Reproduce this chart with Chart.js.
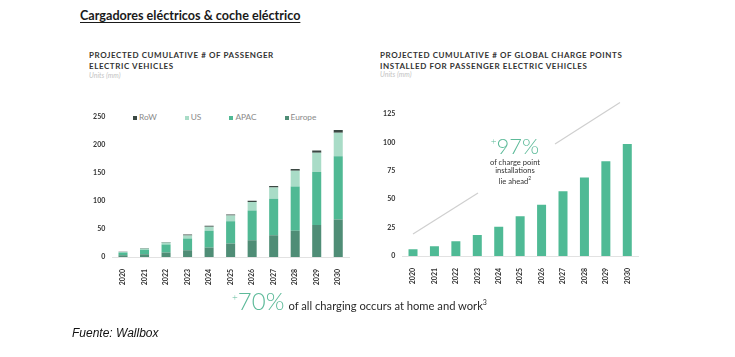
<!DOCTYPE html>
<html><head><meta charset="utf-8">
<script src="https://cdn.jsdelivr.net/npm/chart.js@4/dist/chart.umd.min.js"></script>
<style>
html,body{margin:0;padding:0;background:#fff;width:735px;height:357px;overflow:hidden;position:relative;font-family:Lato,"Open Sans",sans-serif}
.abs{position:absolute;white-space:nowrap}
.title{left:80px;top:8px;font-family:Lato,sans-serif;font-weight:700;font-size:12.6px;color:#1a1a1a;text-decoration:underline;text-underline-offset:2px}
.sub{font-weight:700;font-size:8px;letter-spacing:0.58px;color:#333;line-height:10.7px}
.units{font-size:7px;color:#c4c4c4;font-style:italic}
.legend{left:133px;top:112px;display:flex;gap:28px;font-size:8.3px;color:#8a8a8a;align-items:center}
.legend span.sw{display:inline-block;width:4px;height:4px;margin-right:2px;vertical-align:middle}
.big{color:#5dba99;font-weight:300;font-size:22px}
.big sup{font-size:10px;vertical-align:9px}
.ann{font-size:7.6px;color:#333;text-align:center;line-height:8px}
.foot{left:72px;top:326px;font-family:"Liberation Sans",sans-serif;font-style:italic;font-size:12px;color:#111}
</style></head><body>
<div class="abs title">Cargadores eléctricos &amp; coche eléctrico</div>
<div class="abs sub" style="left:89px;top:50px">PROJECTED CUMULATIVE # OF PASSENGER<br>ELECTRIC VEHICLES</div>
<div class="abs units" style="left:89px;top:71px">Units (mm)</div>
<div class="abs sub" style="left:380px;top:50px">PROJECTED CUMULATIVE # OF GLOBAL CHARGE POINTS<br>INSTALLED FOR PASSENGER ELECTRIC VEHICLES</div>
<div class="abs units" style="left:380px;top:70px">Units (mm)</div>
<div class="abs legend" id="legend"></div>

<div class="abs" style="left:80px;top:105px;width:275px;height:182px"><canvas id="c1"></canvas></div>
<div class="abs" style="left:370px;top:100px;width:274px;height:186px"><canvas id="c2"></canvas></div>

<svg class="abs" style="left:0;top:0" width="735" height="357">
  <line x1="413" y1="234" x2="478" y2="193" stroke="#cfcfcf" stroke-width="1.2"/>
  <line x1="555" y1="144" x2="620" y2="102.5" stroke="#cfcfcf" stroke-width="1.2"/>
</svg>
<div class="abs" style="left:465px;top:132px;width:100px;text-align:center"><span class="big"><sup>+</sup>97%</span></div>
<div class="abs ann" style="left:465px;top:158px;width:100px">of charge point<br>installations<br>lie ahead<sup style="font-size:5px">2</sup></div>

<div class="abs" style="left:232px;top:286px"><span class="big" style="font-size:24px"><sup>+</sup>70%</span> <span style="font-size:11.2px;color:#2a2a2a">of all charging occurs at home and work<sup style="font-size:7px">3</sup></span></div>
<div class="abs foot">Fuente: Wallbox</div>

<script>
const years = ['2020','2021','2022','2023','2024','2025','2026','2027','2028','2029','2030'];
const europe = [3,5,8,12,17,24,30,39,47,57,67];
const apac   = [5,8,14.5,21,30,40,53,65,79,95,113];
const us     = [1,2,3.5,5.5,7,10,15,20,28,34,42];
const row    = [0.5,1,1,1.5,2,2,2.5,3,3,4,5];
const chargePoints = [5.9,8.5,12.9,18.5,25.8,34.9,45.2,56.9,69.2,83.3,98.5];
const evTicks = [0,50,100,150,200,250];
const cpTicks = [0,25,50,75,100,125];
const seriesNames = ['Europe','APAC','US','RoW'];
const seriesColors = ['#4f8d76','#50b994','#a9dcc7','#3b4843'];
const cpColor = '#4fba95';

const legendEl = document.getElementById('legend');
[3,2,1,0].forEach(i=>{
  const d=document.createElement('div');
  d.innerHTML='<span class="sw" style="background:'+seriesColors[i]+'"></span>'+seriesNames[i];
  legendEl.appendChild(d);
});

const tickFont = {family:'Lato', size:7, weight:'bold'};
function xScale(){
  return {stacked:true, grid:{display:false}, border:{display:true,color:'#e2e2e2'},
    ticks:{font:tickFont,color:'#333',minRotation:90,maxRotation:90,padding:4,autoSkip:false},
    afterFit:s=>{s.height=30;}};
}
function yScale(max,ticksArr,w){
  return {stacked:true,min:0,max:max,grid:{display:false,drawTicks:false},border:{display:false},
    ticks:{font:tickFont,color:'#333',padding:7},
    afterBuildTicks:s=>{s.ticks=ticksArr.map(v=>({value:v}));},
    afterFit:s=>{s.width=w;}};
}
const common = {responsive:true,maintainAspectRatio:false,animation:false,
  plugins:{legend:{display:false},tooltip:{enabled:false}}};

const evData = [europe,apac,us,row];
new Chart(document.getElementById('c1'),{
  type:'bar',
  data:{labels:years,datasets:evData.map((arr,i)=>({label:seriesNames[i],data:arr,backgroundColor:seriesColors[i],
    categoryPercentage:1,barPercentage:0.42}))},
  options:Object.assign({},common,{layout:{padding:{top:12,right:6,left:0,bottom:0}},
    scales:{x:xScale(),y:yScale(250,evTicks,32.25)}})
});
new Chart(document.getElementById('c2'),{
  type:'bar',
  data:{labels:years,datasets:[{label:'Charge points',data:chargePoints,backgroundColor:cpColor,
    categoryPercentage:1,barPercentage:0.42}]},
  options:Object.assign({},common,{layout:{padding:{top:14,right:6,left:0,bottom:0}},
    scales:{x:xScale(),y:yScale(125,cpTicks,32.3)}})
});
</script>
</body></html>
